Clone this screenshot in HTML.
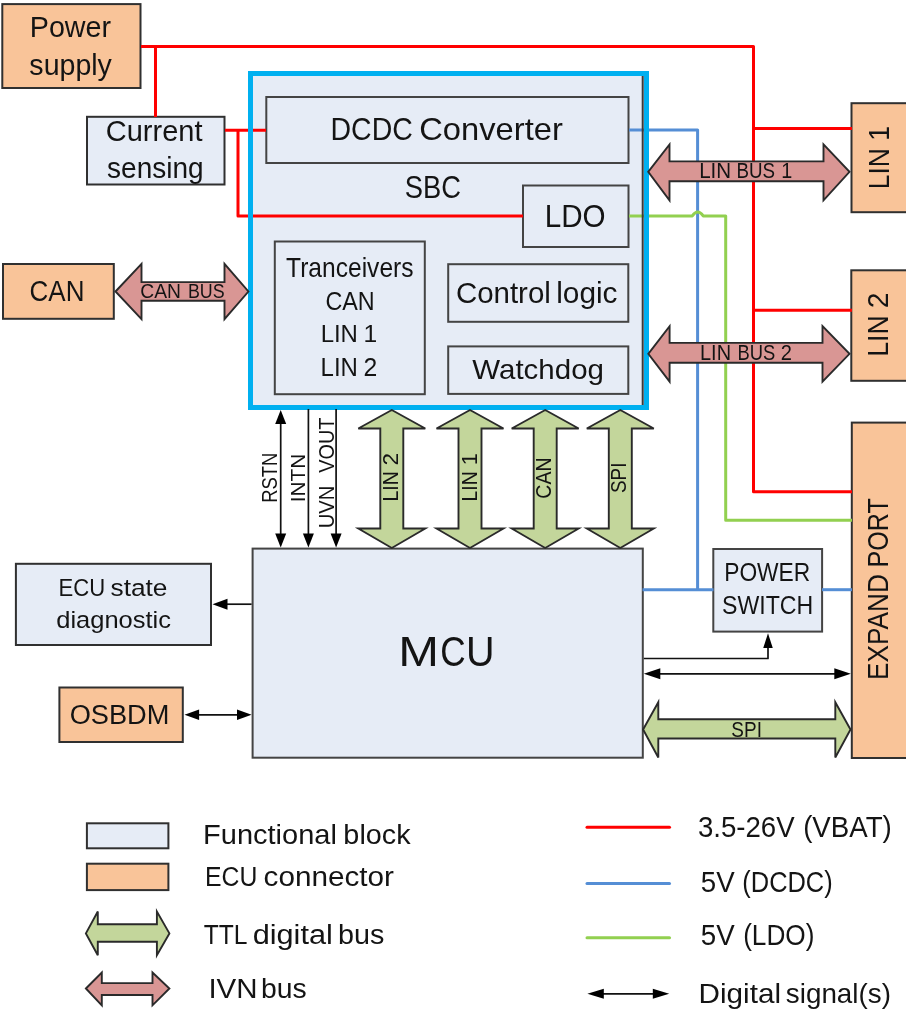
<!DOCTYPE html>
<html><head><meta charset="utf-8"><style>
html,body{margin:0;padding:0;background:#fff;}
svg{display:block;will-change:transform;}
text{font-family:"Liberation Sans",sans-serif;fill:#141414;}
</style></head><body>
<svg width="906" height="1017" viewBox="0 0 906 1017">
<rect width="906" height="1017" fill="#fff"/>
<rect x="250.5" y="73.5" width="396" height="334" fill="#E6ECF6"/>
<rect x="266.3" y="97" width="362.2" height="66" fill="#E6ECF6" stroke="#444444" stroke-width="2"/>
<rect x="523" y="185.5" width="105.5" height="61.5" fill="#E6ECF6" stroke="#444444" stroke-width="2"/>
<rect x="274.8" y="241.5" width="150" height="152.7" fill="#E6ECF6" stroke="#444444" stroke-width="2"/>
<rect x="448.2" y="264.2" width="180.1" height="57.6" fill="#E6ECF6" stroke="#444444" stroke-width="2"/>
<rect x="448.2" y="346.4" width="180.1" height="47.5" fill="#E6ECF6" stroke="#444444" stroke-width="2"/>
<rect x="2.3" y="4.1" width="138.2" height="83.9" fill="#F9C499" stroke="#303030" stroke-width="2"/>
<rect x="87" y="116.8" width="137.5" height="67.7" fill="#E6ECF6" stroke="#303030" stroke-width="2"/>
<rect x="3" y="264" width="110.8" height="54.8" fill="#F9C499" stroke="#303030" stroke-width="2"/>
<rect x="851.5" y="103.2" width="59.5" height="109" fill="#F9C499" stroke="#303030" stroke-width="2"/>
<rect x="851.3" y="270.3" width="59.7" height="110.5" fill="#F9C499" stroke="#303030" stroke-width="2"/>
<rect x="851.8" y="422.6" width="59.2" height="335.4" fill="#F9C499" stroke="#303030" stroke-width="2"/>
<rect x="252.6" y="548.6" width="390.2" height="209.1" fill="#E6ECF6" stroke="#444444" stroke-width="2"/>
<rect x="15.9" y="563.8" width="195.1" height="81.2" fill="#E6ECF6" stroke="#303030" stroke-width="2"/>
<rect x="59.4" y="687.5" width="123.4" height="54.5" fill="#F9C499" stroke="#303030" stroke-width="2"/>
<rect x="713.3" y="549" width="108.8" height="82.6" fill="#E6ECF6" stroke="#444444" stroke-width="2"/>
<path d="M141,46.5 H753.5 V491.8 H852" fill="none" stroke="#FF0000" stroke-width="3" stroke-linejoin="round" stroke-linecap="butt"/>
<path d="M155.5,46.5 V117" fill="none" stroke="#FF0000" stroke-width="3" stroke-linejoin="round" stroke-linecap="butt"/>
<path d="M753.5,128.6 H852" fill="none" stroke="#FF0000" stroke-width="3" stroke-linejoin="round" stroke-linecap="butt"/>
<path d="M753.5,310.3 H852" fill="none" stroke="#FF0000" stroke-width="3" stroke-linejoin="round" stroke-linecap="butt"/>
<path d="M225,130.2 H266" fill="none" stroke="#FF0000" stroke-width="3" stroke-linejoin="round" stroke-linecap="butt"/>
<path d="M238,130.2 V215.9 H523" fill="none" stroke="#FF0000" stroke-width="3" stroke-linejoin="round" stroke-linecap="butt"/>
<path d="M629,130 H697.6 V589.7" fill="none" stroke="#558ED5" stroke-width="3" stroke-linejoin="round" stroke-linecap="butt"/>
<path d="M642.5,589.7 H713.5" fill="none" stroke="#558ED5" stroke-width="3" stroke-linejoin="round" stroke-linecap="butt"/>
<path d="M822,589.7 H852" fill="none" stroke="#558ED5" stroke-width="3" stroke-linejoin="round" stroke-linecap="butt"/>
<path d="M629,215.9 H692.3 Q697.7,208 703.2,215.9 H725.7 V520.2 H852" fill="none" stroke="#92D050" stroke-width="3" stroke-linejoin="round" stroke-linecap="butt"/>
<rect x="641.7" y="75" width="2" height="330" fill="#3a3a3a"/>
<rect x="250.5" y="73.5" width="396" height="334" fill="none" stroke="#00B0F0" stroke-width="5"/>
<polygon points="115.5,291.5 141.5,263.8 141.5,282.1 224.5,282.1 224.5,263.8 248.4,291.5 224.5,319.2 224.5,300.7 141.5,300.7 141.5,319.2" fill="#D99694" stroke="#2a2a2a" stroke-width="1.9" stroke-linejoin="miter"/>
<polygon points="648.2,171.8 669.5,144.4 669.5,161.4 823.5,161.4 823.5,144.4 849.5,171.8 823.5,200.3 823.5,181.3 669.5,181.3 669.5,200.3" fill="#D99694" stroke="#2a2a2a" stroke-width="1.9" stroke-linejoin="miter"/>
<polygon points="648.3,353.8 669.6,326.2 669.6,342.9 822.5,342.9 822.5,326.2 849.5,353.8 822.5,381.6 822.5,362.7 669.6,362.7 669.6,381.6" fill="#D99694" stroke="#2a2a2a" stroke-width="1.9" stroke-linejoin="miter"/>
<polygon points="391.8,410 425.3,428.5 403.3,428.5 403.3,528.5 425.3,528.5 391.8,548 358.3,528.5 380.3,528.5 380.3,428.5 358.3,428.5" fill="#C3D69B" stroke="#2a2a2a" stroke-width="1.9" stroke-linejoin="miter"/>
<polygon points="470,410 503.5,428.5 481.5,428.5 481.5,528.5 503.5,528.5 470,548 436.5,528.5 458.5,528.5 458.5,428.5 436.5,428.5" fill="#C3D69B" stroke="#2a2a2a" stroke-width="1.9" stroke-linejoin="miter"/>
<polygon points="545.2,410 578.7,428.5 556.7,428.5 556.7,528.5 578.7,528.5 545.2,548 511.7,528.5 533.7,528.5 533.7,428.5 511.7,428.5" fill="#C3D69B" stroke="#2a2a2a" stroke-width="1.9" stroke-linejoin="miter"/>
<polygon points="620.3,410 653.8,428.5 631.8,428.5 631.8,528.5 653.8,528.5 620.3,548 586.8,528.5 608.8,528.5 608.8,428.5 586.8,428.5" fill="#C3D69B" stroke="#2a2a2a" stroke-width="1.9" stroke-linejoin="miter"/>
<polygon points="643.1,729.5 658.3,702.2 658.3,719.2 835.3,719.2 835.3,702.2 850.5,729.5 835.3,757.5 835.3,738.5 658.3,738.5 658.3,757.5" fill="#C3D69B" stroke="#2a2a2a" stroke-width="1.9" stroke-linejoin="miter"/>
<path d="M280.7,420 V537" fill="none" stroke="#111" stroke-width="1.7" stroke-linejoin="round" stroke-linecap="butt"/>
<polygon points="280.7,410 286.2,424 275.2,424" fill="#000"/>
<polygon points="280.7,547.6 275.2,533.6 286.2,533.6" fill="#000"/>
<path d="M308.4,409 V537" fill="none" stroke="#111" stroke-width="1.7" stroke-linejoin="round" stroke-linecap="butt"/>
<polygon points="308.4,547.6 302.9,533.6 313.9,533.6" fill="#000"/>
<path d="M336.1,409 V537" fill="none" stroke="#111" stroke-width="1.7" stroke-linejoin="round" stroke-linecap="butt"/>
<polygon points="336.1,547.6 330.6,533.6 341.6,533.6" fill="#000"/>
<path d="M251.6,604.2 H222" fill="none" stroke="#111" stroke-width="1.7" stroke-linejoin="round" stroke-linecap="butt"/>
<polygon points="212.5,604.2 227.5,598.7 227.5,609.7" fill="#000"/>
<path d="M194,714.8 H242" fill="none" stroke="#111" stroke-width="1.7" stroke-linejoin="round" stroke-linecap="butt"/>
<polygon points="184.5,714.8 199.1,709.55 199.1,720.05" fill="#000"/>
<polygon points="251.6,714.8 237,720.05 237,709.55" fill="#000"/>
<path d="M643.8,658.5 H768 V643" fill="none" stroke="#111" stroke-width="1.7" stroke-linejoin="round" stroke-linecap="butt"/>
<polygon points="768,633.3 772.75,648 763.25,648" fill="#000"/>
<path d="M655,673.8 H840" fill="none" stroke="#111" stroke-width="1.7" stroke-linejoin="round" stroke-linecap="butt"/>
<polygon points="643.8,673.8 660.3,668.3 660.3,679.3" fill="#000"/>
<polygon points="850.8,673.8 834.3,679.3 834.3,668.3" fill="#000"/>
<rect x="86.9" y="823.3" width="81.5" height="25" fill="#E6ECF6" stroke="#303030" stroke-width="2"/>
<rect x="86.9" y="863.7" width="81.5" height="26.4" fill="#F9C499" stroke="#303030" stroke-width="2"/>
<polygon points="85.9,933.4 97.8,911.5 97.8,924.2 156.9,924.2 156.9,911.5 169.4,933.4 156.9,955.2 156.9,941.7 97.8,941.7 97.8,955.2" fill="#C3D69B" stroke="#2a2a2a" stroke-width="1.9" stroke-linejoin="miter"/>
<polygon points="85.9,988.5 101.8,972.5 101.8,983.1 152.5,983.1 152.5,972.5 169.4,988.5 152.5,1005.3 152.5,995 101.8,995 101.8,1005.3" fill="#D99694" stroke="#2a2a2a" stroke-width="1.9" stroke-linejoin="miter"/>
<path d="M587,827.3 H669.5" fill="none" stroke="#FF0000" stroke-width="3" stroke-linejoin="round" stroke-linecap="round"/>
<path d="M587,883.5 H669.5" fill="none" stroke="#558ED5" stroke-width="3" stroke-linejoin="round" stroke-linecap="round"/>
<path d="M587,937.7 H669.5" fill="none" stroke="#92D050" stroke-width="3" stroke-linejoin="round" stroke-linecap="round"/>
<path d="M597,993.8 H659" fill="none" stroke="#111" stroke-width="1.7" stroke-linejoin="round" stroke-linecap="butt"/>
<polygon points="587.4,993.8 603.8,988.8 603.8,998.8" fill="#000"/>
<polygon points="669.2,993.8 652.8,998.8 652.8,988.8" fill="#000"/>
<g opacity="0.995">
<text id="power" x="29.75" y="36.8" font-size="29.51" textLength="81.33" lengthAdjust="spacingAndGlyphs">Power</text>
<text id="supply" x="29.36" y="74.5" font-size="29.51" textLength="82.54" lengthAdjust="spacingAndGlyphs">supply</text>
<text id="current" x="105.76" y="141.2" font-size="29.36" textLength="96.7" lengthAdjust="spacingAndGlyphs">Current</text>
<text id="sensing" x="107.12" y="178.3" font-size="29.36" textLength="96.54" lengthAdjust="spacingAndGlyphs">sensing</text>
<text id="dcdc" x="330.55" y="140.1" font-size="31.4" textLength="82.24" lengthAdjust="spacingAndGlyphs">DCDC</text>
<text id="conv" x="419.28" y="140.1" font-size="31.4" textLength="143.51" lengthAdjust="spacingAndGlyphs">Converter</text>
<text id="sbc" x="404.81" y="198.3" font-size="31.69" textLength="56.16" lengthAdjust="spacingAndGlyphs">SBC</text>
<text id="ldo" x="544.77" y="226.6" font-size="32.12" textLength="60.85" lengthAdjust="spacingAndGlyphs">LDO</text>
<text id="tranc" x="286.1" y="276.6" font-size="27.03" textLength="127.44" lengthAdjust="spacingAndGlyphs">Tranceivers</text>
<text id="tcan" x="325.42" y="309.5" font-size="25.44" textLength="49.26" lengthAdjust="spacingAndGlyphs">CAN</text>
<text id="tlin1" x="320.64" y="341.9" font-size="24.71" textLength="37.29" lengthAdjust="spacingAndGlyphs">LIN</text>
<text id="tlin1n" x="363.5" y="341.9" font-size="24.71" textLength="13.69" lengthAdjust="spacingAndGlyphs">1</text>
<text id="tlin2" x="320.57" y="375.6" font-size="25.87" textLength="37.36" lengthAdjust="spacingAndGlyphs">LIN</text>
<text id="tlin2n" x="363.43" y="375.6" font-size="25.87" textLength="13.77" lengthAdjust="spacingAndGlyphs">2</text>
<text id="ctrl" x="455.9" y="302.5" font-size="29.8" textLength="94.96" lengthAdjust="spacingAndGlyphs">Control</text>
<text id="logic" x="556.19" y="302.5" font-size="29.8" textLength="61.34" lengthAdjust="spacingAndGlyphs">logic</text>
<text id="wdog" x="472.29" y="378.7" font-size="27.33" textLength="131.67" lengthAdjust="spacingAndGlyphs">Watchdog</text>
<text id="can" x="29.57" y="300.8" font-size="28.92" textLength="54.89" lengthAdjust="spacingAndGlyphs">CAN</text>
<text id="canbus" x="140.34" y="297.7" font-size="20.49" textLength="40.69" lengthAdjust="spacingAndGlyphs">CAN</text>
<text id="canbus2" x="187.91" y="297.7" font-size="20.49" textLength="36.69" lengthAdjust="spacingAndGlyphs">BUS</text>
<text id="linbus1" x="699.14" y="177.9" font-size="22.09" textLength="32.01" lengthAdjust="spacingAndGlyphs">LIN</text>
<text id="linbus1b" x="736.5" y="177.9" font-size="22.09" textLength="38.57" lengthAdjust="spacingAndGlyphs">BUS</text>
<text id="linbus1n" x="781.25" y="177.9" font-size="22.09" textLength="11.02" lengthAdjust="spacingAndGlyphs">1</text>
<text id="linbus2" x="700.03" y="359.9" font-size="21.66" textLength="31.01" lengthAdjust="spacingAndGlyphs">LIN</text>
<text id="linbus2b" x="737.41" y="359.9" font-size="21.66" textLength="37.77" lengthAdjust="spacingAndGlyphs">BUS</text>
<text id="linbus2n" x="780.84" y="359.9" font-size="21.66" textLength="11.19" lengthAdjust="spacingAndGlyphs">2</text>
<text id="ecu1" x="58.51" y="595.9" font-size="24.71" textLength="46.63" lengthAdjust="spacingAndGlyphs">ECU</text>
<text id="ecu1b" x="110.53" y="595.9" font-size="24.71" textLength="56.96" lengthAdjust="spacingAndGlyphs">state</text>
<text id="ecu2" x="56.27" y="627.5" font-size="24.71" textLength="114.76" lengthAdjust="spacingAndGlyphs">diagnostic</text>
<text id="mcu" x="398.31" y="665.6" font-size="42.59" textLength="40.75" lengthAdjust="spacingAndGlyphs">M</text>
<text id="mcuc" x="440.37" y="665.6" font-size="42.59" textLength="25.41" lengthAdjust="spacingAndGlyphs">C</text>
<text id="mcuu" x="466.11" y="665.6" font-size="42.59" textLength="28.55" lengthAdjust="spacingAndGlyphs">U</text>
<text id="osbdm" x="69.64" y="724" font-size="27.62" textLength="99.75" lengthAdjust="spacingAndGlyphs">OSBDM</text>
<text id="pwr" x="724.18" y="581.4" font-size="26.02" textLength="86.12" lengthAdjust="spacingAndGlyphs">POWER</text>
<text id="sw" x="722.01" y="613.9" font-size="25.44" textLength="91.26" lengthAdjust="spacingAndGlyphs">SWITCH</text>
<text id="spih" x="731.33" y="736.5" font-size="22.97" textLength="30.6" lengthAdjust="spacingAndGlyphs">SPI</text>
<text id="lg1" x="203.07" y="843.8" font-size="27.47" textLength="133.85" lengthAdjust="spacingAndGlyphs">Functional</text>
<text id="lg1b" x="343.39" y="843.8" font-size="27.47" textLength="67.23" lengthAdjust="spacingAndGlyphs">block</text>
<text id="lg2" x="205.02" y="886" font-size="28.2" textLength="52.28" lengthAdjust="spacingAndGlyphs">ECU</text>
<text id="lg2b" x="263.54" y="886" font-size="28.2" textLength="130.44" lengthAdjust="spacingAndGlyphs">connector</text>
<text id="lg3" x="203.78" y="944.2" font-size="28.2" textLength="43.75" lengthAdjust="spacingAndGlyphs">TTL</text>
<text id="lg3b" x="252.65" y="944.2" font-size="28.2" textLength="80.2" lengthAdjust="spacingAndGlyphs">digital</text>
<text id="lg3c" x="338.11" y="944.2" font-size="28.2" textLength="46.33" lengthAdjust="spacingAndGlyphs">bus</text>
<text id="lg4" x="208.42" y="997.8" font-size="28.05" textLength="49.2" lengthAdjust="spacingAndGlyphs">IVN</text>
<text id="lg4b" x="261.01" y="997.8" font-size="28.05" textLength="45.71" lengthAdjust="spacingAndGlyphs">bus</text>
<text id="lg5" x="697.96" y="836.8" font-size="29.51" textLength="96.62" lengthAdjust="spacingAndGlyphs">3.5-26V</text>
<text id="lg5b" x="803.15" y="836.8" font-size="29.51" textLength="88.66" lengthAdjust="spacingAndGlyphs">(VBAT)</text>
<text id="lg6" x="700.75" y="892.4" font-size="28.78" textLength="33.86" lengthAdjust="spacingAndGlyphs">5V</text>
<text id="lg6b" x="742.33" y="892.4" font-size="28.78" textLength="90.34" lengthAdjust="spacingAndGlyphs">(DCDC)</text>
<text id="lg7" x="700.74" y="945.1" font-size="28.92" textLength="33.88" lengthAdjust="spacingAndGlyphs">5V</text>
<text id="lg7b" x="743.15" y="945.1" font-size="28.92" textLength="71.29" lengthAdjust="spacingAndGlyphs">(LDO)</text>
<text id="lg8" x="698.56" y="1002.7" font-size="27.47" textLength="82.44" lengthAdjust="spacingAndGlyphs">Digital</text>
<text id="lg8b" x="785.85" y="1002.7" font-size="27.47" textLength="105.1" lengthAdjust="spacingAndGlyphs">signal(s)</text>
<text id="vlin1" transform="translate(889.25,189.13) rotate(-90)" x="0" y="0" font-size="29.36" textLength="41.07" lengthAdjust="spacingAndGlyphs">LIN</text>
<text id="vlin1n" transform="translate(889.25,140.82) rotate(-90)" x="0" y="0" font-size="29.36" textLength="14.94" lengthAdjust="spacingAndGlyphs">1</text>
<text id="vlin2" transform="translate(887.55,356.83) rotate(-90)" x="0" y="0" font-size="29.65" textLength="41.5" lengthAdjust="spacingAndGlyphs">LIN</text>
<text id="vlin2n" transform="translate(887.55,308.3) rotate(-90)" x="0" y="0" font-size="29.65" textLength="15.69" lengthAdjust="spacingAndGlyphs">2</text>
<text id="vexp" transform="translate(887.85,679.88) rotate(-90)" x="0" y="0" font-size="29.94" textLength="105.81" lengthAdjust="spacingAndGlyphs">EXPAND</text>
<text id="vexp2" transform="translate(887.85,567.56) rotate(-90)" x="0" y="0" font-size="29.94" textLength="69.29" lengthAdjust="spacingAndGlyphs">PORT</text>
<text id="rstn" transform="translate(277.37,502.8) rotate(-90)" x="0" y="0" font-size="22.53" textLength="50.13" lengthAdjust="spacingAndGlyphs">RSTN</text>
<text id="intn" transform="translate(305.45,502.28) rotate(-90)" x="0" y="0" font-size="20.35" textLength="48.52" lengthAdjust="spacingAndGlyphs">INTN</text>
<text id="uvn" transform="translate(333.55,528.33) rotate(-90)" x="0" y="0" font-size="21.51" textLength="42.61" lengthAdjust="spacingAndGlyphs">UVN</text>
<text id="vout" transform="translate(333.55,472.71) rotate(-90)" x="0" y="0" font-size="21.51" textLength="55.19" lengthAdjust="spacingAndGlyphs">VOUT</text>
<text id="glin2" transform="translate(398.35,501.54) rotate(-90)" x="0" y="0" font-size="22.97" textLength="30.24" lengthAdjust="spacingAndGlyphs">LIN</text>
<text id="glin2n" transform="translate(398.35,465.48) rotate(-90)" x="0" y="0" font-size="22.97" textLength="12.52" lengthAdjust="spacingAndGlyphs">2</text>
<text id="glin1" transform="translate(476.57,501.46) rotate(-90)" x="0" y="0" font-size="21.66" textLength="30.08" lengthAdjust="spacingAndGlyphs">LIN</text>
<text id="glin1n" transform="translate(476.57,465.22) rotate(-90)" x="0" y="0" font-size="21.66" textLength="12.14" lengthAdjust="spacingAndGlyphs">1</text>
<text id="gcan" transform="translate(551.35,498.64) rotate(-90)" x="0" y="0" font-size="22.97" textLength="41.19" lengthAdjust="spacingAndGlyphs">CAN</text>
<text id="gspi" transform="translate(626.4,493.03) rotate(-90)" x="0" y="0" font-size="22.97" textLength="30.43" lengthAdjust="spacingAndGlyphs">SPI</text>
</g>
</svg>
</body></html>
